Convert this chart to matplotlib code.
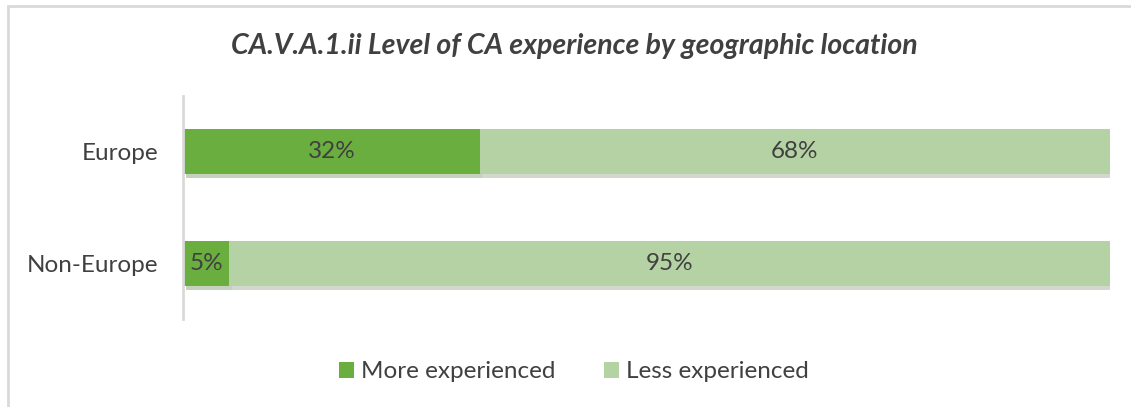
import matplotlib
matplotlib.use("Agg")
import matplotlib.pyplot as plt
import matplotlib.patheffects as pe
from matplotlib.patches import Rectangle, Patch

# data
regions = ["Europe", "Non-Europe"]
more_experienced = [32, 5]
less_experienced = [68, 95]
series_names = ["More experienced", "Less experienced"]

dark_green = "#6aae3f"
light_green = "#b4d2a4"
text_grey = "#404040"

plt.rcParams['font.family'] = ['Lato', 'DejaVu Sans']

fig = plt.figure(figsize=(11.31, 4.07), dpi=100)
ax = fig.add_axes([183 / 1131, 1 - 319 / 407, (1110 - 183) / 1131, (319 - 96) / 407])

# outer chart border (only top and left visible in the reference)
fig.patches.append(Rectangle((8 / 1131, -0.1), 1.2, 1 - 6 / 407 + 0.1,
                             transform=fig.transFigure, fill=False,
                             edgecolor="#d9d9d9", linewidth=2))

ypos = list(range(len(regions)))
shadow = [pe.SimplePatchShadow(offset=(2, -3), alpha=0.3, rho=0.6), pe.Normal()]

b1 = ax.barh(ypos, more_experienced, height=0.40, color=dark_green)
b2 = ax.barh(ypos, less_experienced, left=more_experienced, height=0.40, color=light_green)
for bar in list(b1) + list(b2):
    bar.set_path_effects(shadow)

for bars, vals, lefts in [(b1, more_experienced, [0] * len(regions)),
                          (b2, less_experienced, more_experienced)]:
    for bar, v, l in zip(bars, vals, lefts):
        ax.text(l + v / 2, bar.get_y() + bar.get_height() / 2, f"{v}%",
                ha="center", va="center", fontsize=17.5, color=text_grey)

ax.set_xlim(0, 100)
ax.set_ylim(1.5, -0.5)
ax.set_yticks(ypos)
ax.set_yticklabels(regions, fontsize=17.5, color=text_grey)
ax.tick_params(axis="y", length=0, pad=18)
ax.set_xticks([])
for s in ["top", "right", "bottom"]:
    ax.spines[s].set_visible(False)
ax.spines["left"].set_color("#d9d9d9")
ax.spines["left"].set_linewidth(2)

fig.text(574 / 1131, 1 - 46 / 407, "CA.V.A.1.ii Level of CA experience by geographic location",
         ha="center", va="center", fontsize=20.5, fontweight="bold", fontstyle="italic",
         color=text_grey)

handles = [Patch(facecolor=dark_green), Patch(facecolor=light_green)]
fig.legend(handles, series_names, loc="center", bbox_to_anchor=(574 / 1131, 1 - 372 / 407),
           ncol=2, frameon=False, fontsize=17.5, handlelength=0.6, handleheight=0.6,
           handletextpad=0.3, columnspacing=2.0, labelcolor=text_grey)

fig.savefig("out.png", dpi=100, facecolor="white")
